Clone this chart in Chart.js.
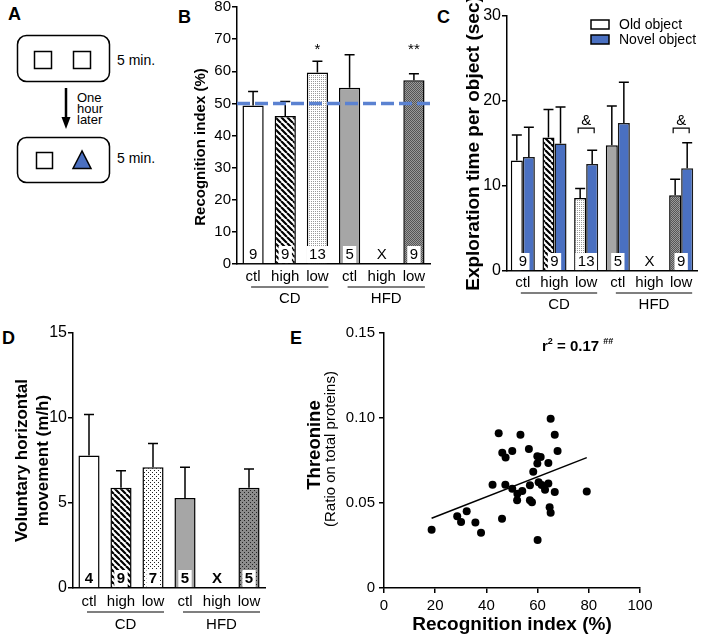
<!DOCTYPE html>
<html lang="en">
<head>
<meta charset="UTF-8" />
<title>Object recognition • diet groups</title>
<script src="https://cdn.jsdelivr.net/npm/chart.js@4"></script>
<style>
  * { margin: 0; padding: 0; box-sizing: border-box; }
  body {
    width: 701px; height: 638px;
    position: relative; overflow: hidden;
    background: #fff; color: #000;
    font-family: 'Liberation Sans', Arial, Helvetica, sans-serif;
  }
  canvas, svg { position: absolute; }
  .letter { position: absolute; font-size: 18px; font-weight: bold; line-height: 1; }
</style>
</head>
<body>

<!-- A: protocol sketch -->
<svg width="180" height="195" style="left:0;top:0" font-family="'Liberation Sans', Arial, sans-serif">
  <rect x="17.5" y="35.5" width="92" height="46" rx="9" fill="none" stroke="#000" stroke-width="1.5"/>
  <rect x="34.5" y="51.5" width="17" height="17" fill="#fff" stroke="#000" stroke-width="1.5"/>
  <rect x="73.5" y="51.5" width="17" height="17" fill="#fff" stroke="#000" stroke-width="1.5"/>
  <text x="117" y="65" font-size="14">5 min.</text>
  <line x1="66" y1="88" x2="66" y2="119" stroke="#000" stroke-width="2.5"/>
  <polygon points="61.5,117 70.5,117 66,129" fill="#000"/>
  <text x="77" y="101.5" font-size="13">One</text>
  <text x="77" y="112.5" font-size="13">hour</text>
  <text x="77" y="124" font-size="13">later</text>
  <rect x="17.5" y="137.5" width="92" height="45" rx="9" fill="none" stroke="#000" stroke-width="1.5"/>
  <rect x="36.5" y="152.5" width="16" height="16" fill="#fff" stroke="#000" stroke-width="1.5"/>
  <polygon points="82,151 73,168.5 91,168.5" fill="#4a6fbf" stroke="#000" stroke-width="1.5"/>
  <text x="117" y="163" font-size="14">5 min.</text>
</svg>

<div class="letter" style="left:8px;top:5px">A</div>
<div class="letter" style="left:178px;top:8px">B</div>
<div class="letter" style="left:437px;top:8px">C</div>
<div class="letter" style="left:2px;top:329px">D</div>
<div class="letter" style="left:290px;top:329px">E</div>

<canvas id="chartB" width="250" height="323" style="left:185px;top:-3px"></canvas>
<canvas id="chartC" width="246" height="330" style="left:455px;top:0"></canvas>
<canvas id="chartD" width="275" height="318" style="left:0;top:320px"></canvas>
<canvas id="chartE" width="411" height="318" style="left:290px;top:320px"></canvas>

<script>
  const FONT = "'Liberation Sans', Arial, Helvetica, sans-serif";

  // ---- data ----
  const groupLabels = ['ctl', 'high', 'low', 'ctl', 'high', 'low'];
  const diets = ['CD', 'HFD'];          // 3 groups each

  // B: recognition index (%)
  const recogMean = [49.3, 46.1, 59.6, 54.9, null, 57.2];
  const recogSem  = [4.4, 4.5, 3.5, 10.2, null, 2.0];
  const recogN    = ['9', '9', '13', '5', 'X', '9'];
  const recogSig  = ['', '', '*', '', '', '**'];
  const chanceLevel = 50;

  // C: exploration time per object (sec)
  const oldMean   = [13.0, 15.7, 8.6, 14.8, null, 8.9];
  const oldSem    = [3.0, 3.3, 1.1, 4.6, null, 1.9];
  const novelMean = [13.4, 15.0, 12.6, 17.4, null, 12.1];
  const novelSem  = [3.5, 4.3, 1.6, 4.8, null, 3.0];
  const explN     = ['9', '9', '13', '5', 'X', '9'];
  const explSig   = ['', '', '&', '', '', '&'];

  // D: voluntary horizontal movement (m/h)
  const moveMean = [7.8, 5.9, 7.1, 5.3, null, 5.9];
  const moveSem  = [2.4, 1.0, 1.4, 1.8, null, 1.1];
  const moveN    = ['4', '9', '7', '5', 'X', '5'];

  // E: threonine vs recognition index
  const recogX = [18.6, 28.6, 30.1, 32.3, 35.7, 37.9, 42.4, 44.8, 46.1, 46.2, 47.5, 47.4, 50.1,
                  50.1, 52.1, 52.0, 53.3, 54.0, 56.6, 57.0, 57.0, 57.8, 58.3, 59.9, 59.9, 60.0,
                  60.4, 61.2, 61.6, 62.9, 64.2, 64.2, 64.7, 65.1, 65.1, 66.7, 66.7, 67.8, 79.2];
  const threonine = [0.0343, 0.0422, 0.0388, 0.0451, 0.0386, 0.0325, 0.0608, 0.0910, 0.0408, 0.0796,
                     0.0767, 0.0608, 0.0806, 0.0584, 0.0555, 0.0516, 0.0902, 0.0571, 0.0818, 0.0604,
                     0.0516, 0.0504, 0.0684, 0.0775, 0.0733, 0.0282, 0.0622, 0.0771, 0.0606, 0.0578,
                     0.0735, 0.0614, 0.0475, 0.0443, 0.0996, 0.0902, 0.0565, 0.0806, 0.0567];
  const fitX = [18.6, 79.2];
  const fitY = [0.0410, 0.0767];
  const rSquared = '0.17';
  const rSig = '##';

  // ---- fills ----
  function stripes(size, lw) {
    const c = document.createElement('canvas'); c.width = c.height = size;
    const g = c.getContext('2d');
    g.fillStyle = '#fff'; g.fillRect(0, 0, size, size);
    g.strokeStyle = '#000'; g.lineWidth = lw;
    g.beginPath();
    for (const o of [-size, 0, size]) { g.moveTo(o, 0); g.lineTo(o + size, size); }
    g.stroke();
    return g.createPattern(c, 'repeat');
  }
  function dots(size, bg, fg, pts) {
    const c = document.createElement('canvas'); c.width = c.height = size;
    const g = c.getContext('2d');
    g.fillStyle = bg; g.fillRect(0, 0, size, size);
    g.fillStyle = fg;
    pts.forEach(p => g.fillRect(p[0], p[1], 1, 1));
    return g.createPattern(c, 'repeat');
  }
  const GRAY = '#a6a6a6';
  const BLUE = '#4a70c1';
  const fillsBC = ['#fff', stripes(6, 2.2), dots(2, '#fff', '#999', [[0, 0]]), GRAY, GRAY,
                   dots(2, '#9a9a9a', '#555', [[0, 0], [1, 1]])];
  const fillsD = ['#fff', stripes(6, 2.2), dots(4, '#fff', '#222', [[0, 0], [2, 2]]), GRAY, GRAY,
                  dots(4, '#8c8c8c', '#222', [[0, 0], [2, 2]])];
  const groups = diets.map((d, i) => ({ label: d, from: i * 3, to: i * 3 + 2 }));

  Chart.defaults.font.family = FONT;
  Chart.defaults.color = '#000';

  // whiskers, n per group, marks, group underlines, titles
  const barExtras = {
    id: 'barExtras',
    afterDatasetsDraw(chart, args, o) {
      const { ctx, chartArea: a, scales: { x, y } } = chart;
      ctx.save();
      ctx.strokeStyle = '#000'; ctx.lineWidth = 1.5;
      (o.sem || []).forEach((sem, i) => {
        const meta = chart.getDatasetMeta(i);
        const vals = chart.data.datasets[i].data;
        sem.forEach((s, j) => {
          if (vals[j] == null) return;
          const bx = meta.data[j].x;
          const y0 = y.getPixelForValue(vals[j]);
          const y1 = y.getPixelForValue(vals[j] + s);
          ctx.beginPath();
          ctx.moveTo(bx, y0); ctx.lineTo(bx, y1);
          ctx.moveTo(bx - 5, y1); ctx.lineTo(bx + 5, y1);
          ctx.stroke();
        });
      });

      if (o.refLine != null) {
        const ry = y.getPixelForValue(o.refLine);
        ctx.save();
        ctx.strokeStyle = '#5b82d1'; ctx.lineWidth = 3.5; ctx.setLineDash([13, 5]);
        ctx.beginPath(); ctx.moveTo(a.left, ry); ctx.lineTo(a.right + 3, ry); ctx.stroke();
        ctx.restore();
      }

      ctx.font = (o.nBold ? 'bold ' : '') + '15px ' + FONT;
      ctx.textAlign = 'center'; ctx.textBaseline = 'middle';
      (o.n || []).forEach((t, j) => {
        const cx = x.getPixelForValue(j);
        if (t !== 'X') {
          const w = ctx.measureText(t).width + 5;
          ctx.fillStyle = '#fff';
          ctx.fillRect(cx - w / 2, a.bottom - 18, w, 17);
        }
        ctx.fillStyle = '#000';
        ctx.fillText(t, cx, a.bottom - 9);
      });

      ctx.font = '15px ' + FONT;
      (o.marks || []).forEach((m, j) => {
        if (!m) return;
        const cx = x.getPixelForValue(j);
        const my = y.getPixelForValue(o.markAt);
        ctx.textBaseline = 'alphabetic';
        if (o.bracket) {
          ctx.lineWidth = 1.2;
          ctx.beginPath();
          ctx.moveTo(cx - 8, my + 5); ctx.lineTo(cx - 8, my); ctx.lineTo(cx + 8, my); ctx.lineTo(cx + 8, my + 5);
          ctx.stroke();
          ctx.fillText(m, cx, my - 3);
        } else {
          ctx.fillText(m, cx, my);
        }
      });
      ctx.restore();
    },
    afterDraw(chart, args, o) {
      const { ctx, chartArea: a, scales: { x } } = chart;
      ctx.save();
      ctx.strokeStyle = '#000'; ctx.fillStyle = '#000'; ctx.lineWidth = 1.2;
      ctx.font = '15px ' + FONT; ctx.textAlign = 'center'; ctx.textBaseline = 'middle';
      (o.groups || []).forEach(g => {
        const x0 = x.getPixelForValue(g.from) - 2;
        const x1 = x.getPixelForValue(g.to) + 11;
        ctx.beginPath();
        ctx.moveTo(x0, a.bottom + o.lineDy); ctx.lineTo(x1, a.bottom + o.lineDy);
        ctx.stroke();
        ctx.fillText(g.label, (x0 + x1) / 2, a.bottom + o.textDy);
      });
      (o.titles || []).forEach(t => {
        ctx.save();
        ctx.translate(t.x, t.y); ctx.rotate(-Math.PI / 2);
        ctx.font = t.font;
        ctx.fillText(t.text, 0, 0);
        ctx.restore();
      });
      if (o.legend) {
        const L = o.legend;
        ctx.lineWidth = 1.5; ctx.textAlign = 'left'; ctx.font = '14px ' + FONT;
        chart.data.datasets.forEach((ds, i) => {
          const bg = Array.isArray(ds.backgroundColor) ? ds.backgroundColor[0] : ds.backgroundColor;
          const by = L.y + i * L.dy;
          ctx.fillStyle = bg; ctx.fillRect(L.x, by, 18, 9);
          ctx.strokeRect(L.x, by, 18, 9);
          ctx.fillStyle = '#000';
          ctx.fillText(ds.label, L.x + 28, by + 5);
        });
      }
      ctx.restore();
    }
  };

  function barScales(s) {
    return {
      x: {
        grid: { display: false, drawTicks: false, tickLength: 0 },
        border: { color: '#000', width: 1.5 },
        ticks: { font: { size: 15 }, padding: s.xPad, maxRotation: 0, autoSkip: false },
        afterFit: sc => { sc.height = s.xH; }
      },
      y: {
        min: 0, max: s.max,
        ticks: { stepSize: s.step, font: { size: s.tick }, padding: 1 },
        grid: { drawOnChartArea: false, color: '#000', lineWidth: 1.5, tickLength: 5 },
        border: { color: '#000', width: 1.5 },
        title: s.title || { display: false },
        afterFit: sc => { sc.width = s.yW; }
      }
    };
  }

  // B
  new Chart(document.getElementById('chartB'), {
    type: 'bar',
    data: {
      labels: groupLabels,
      datasets: [{ label: 'Recognition index', data: recogMean, backgroundColor: fillsBC,
                   borderColor: '#000', borderWidth: 1.5, barPercentage: 0.66, categoryPercentage: 1 }]
    },
    options: {
      responsive: false, animation: false,
      layout: { padding: { top: 10, right: 5, left: 0, bottom: 0 } },
      scales: barScales({ max: 80, step: 10, tick: 15, yW: 52, xH: 56, xPad: 4 }),
      plugins: {
        legend: { display: false }, tooltip: { enabled: false },
        barExtras: {
          sem: [recogSem], refLine: chanceLevel, n: recogN, marks: recogSig, markAt: 65.5,
          groups, lineDy: 23, textDy: 35,
          titles: [{ text: 'Recognition index (%)', x: 16, y: 150, font: 'bold 15px ' + FONT }]
        }
      }
    },
    plugins: [barExtras]
  });

  // C
  new Chart(document.getElementById('chartC'), {
    type: 'bar',
    data: {
      labels: groupLabels,
      datasets: [
        { label: 'Old object', data: oldMean, backgroundColor: fillsBC, borderColor: '#000',
          borderWidth: 1.5, barPercentage: 1, categoryPercentage: 0.76 },
        { label: 'Novel object', data: novelMean, backgroundColor: BLUE, borderColor: '#1a1a1a',
          borderWidth: 1.5, barPercentage: 1, categoryPercentage: 0.76 }
      ]
    },
    options: {
      responsive: false, animation: false,
      layout: { padding: { top: 16, right: 4, left: 0, bottom: 0 } },
      scales: barScales({
        max: 30, step: 10, tick: 16, yW: 52, xH: 59, xPad: 3,
        title: { display: true, text: 'Exploration time per object (sec)',
                 font: { size: 19, weight: 'bold' }, padding: { top: 7, bottom: 0 } }
      }),
      plugins: {
        legend: { display: false }, tooltip: { enabled: false },
        barExtras: {
          sem: [oldSem, novelSem], n: explN, marks: explSig, markAt: 16.8, bracket: true,
          groups, lineDy: 22, textDy: 34,
          legend: { x: 136, y: 20, dy: 15 }
        }
      }
    },
    plugins: [barExtras]
  });

  // D
  new Chart(document.getElementById('chartD'), {
    type: 'bar',
    data: {
      labels: groupLabels,
      datasets: [{ label: 'Movement', data: moveMean, backgroundColor: fillsD,
                   borderColor: '#000', borderWidth: 1.5, barPercentage: 0.66, categoryPercentage: 1 }]
    },
    options: {
      responsive: false, animation: false,
      layout: { padding: { top: 13, right: 10, left: 0, bottom: 0 } },
      scales: barScales({
        max: 15, step: 5, tick: 16, yW: 73, xH: 50, xPad: 5,
        title: { display: true, text: ['Voluntary horizontal', 'movement (m/h)'],
                 font: { size: 17, weight: 'bold', lineHeight: 1.24 }, padding: { top: 11.5, bottom: 0 } }
      }),
      plugins: {
        legend: { display: false }, tooltip: { enabled: false },
        barExtras: { sem: [moveSem], n: moveN, nBold: true, groups, lineDy: 24, textDy: 37 }
      }
    },
    plugins: [barExtras]
  });

  // E
  const rsqLabel = {
    id: 'rsqLabel',
    afterDraw(chart) {
      const { ctx } = chart;
      ctx.save();
      ctx.fillStyle = '#000'; ctx.textAlign = 'left'; ctx.textBaseline = 'alphabetic';
      let px = 252; const by = 31;
      const big = 'bold 15px ' + FONT, small = 'bold 9px ' + FONT;
      [['r', big, 0], ['2', small, -7], [' = ' + rSquared + ' ', big, 0], [rSig, small, -7]].forEach(p => {
        ctx.font = p[1]; ctx.fillText(p[0], px, by + p[2]);
        px += ctx.measureText(p[0]).width;
      });
      ctx.textAlign = 'center'; ctx.textBaseline = 'middle';
      [['Threonine', 'bold 18.5px ' + FONT, 25, 125], ['(Ratio on total proteins)', '15px ' + FONT, 41, 129]]
        .forEach(t => {
          ctx.save(); ctx.translate(t[2], t[3]); ctx.rotate(-Math.PI / 2);
          ctx.font = t[1]; ctx.fillText(t[0], 0, 0); ctx.restore();
        });
      ctx.restore();
    }
  };

  new Chart(document.getElementById('chartE'), {
    type: 'scatter',
    data: {
      datasets: [
        { label: 'Animals', data: recogX.map((v, i) => ({ x: v, y: threonine[i] })),
          pointRadius: 4, backgroundColor: '#000', borderWidth: 0 },
        { label: 'Linear fit', data: fitX.map((v, i) => ({ x: v, y: fitY[i] })), showLine: true,
          pointRadius: 0, borderColor: '#000', borderWidth: 1.5 }
      ]
    },
    options: {
      responsive: false, animation: false,
      layout: { padding: { top: 13, right: 61, left: 0, bottom: 0 } },
      scales: {
        x: {
          type: 'linear', min: 0, max: 100,
          ticks: { stepSize: 20, font: { size: 15 }, padding: 4 },
          grid: { drawOnChartArea: false, color: '#000', lineWidth: 1.5, tickLength: 5 },
          border: { color: '#000', width: 1.5 },
          title: { display: true, text: 'Recognition index (%)', font: { size: 19, weight: 'bold' },
                   padding: { top: 0, bottom: 2 } },
          afterFit: sc => { sc.height = 50; }
        },
        y: {
          min: 0, max: 0.15,
          ticks: { stepSize: 0.05, font: { size: 15 }, padding: 4,
                   callback: v => (v === 0 ? '0' : v.toFixed(2)) },
          grid: { drawOnChartArea: false, color: '#000', lineWidth: 1.5, tickLength: 5 },
          border: { color: '#000', width: 1.5 },
          afterFit: sc => { sc.width = 94; }
        }
      },
      plugins: { legend: { display: false }, tooltip: { enabled: false } }
    },
    plugins: [rsqLabel]
  });
</script>
</body>
</html>
